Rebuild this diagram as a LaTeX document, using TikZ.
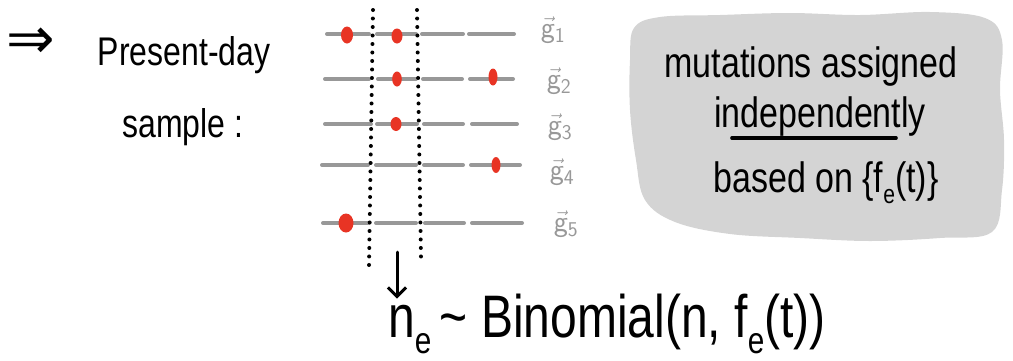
\documentclass[tikz,border=0pt]{standalone}
\usepackage{fontspec}
\setmainfont{Liberation Sans}
\newfontfamily\symfont{DejaVu Sans}
\usetikzlibrary{arrows.meta,calc}
\definecolor{rowgray}{RGB}{152,152,152}
\definecolor{cloudgray}{RGB}{212,212,212}
\definecolor{dotred}{RGB}{232,52,36}
\newcommand\lowsub[1]{\raisebox{-0.28em}{\scalebox{0.62}{#1}}}
\newcommand\tall[1]{\scalebox{1}[1.25]{#1}}
\begin{document}
\begin{tikzpicture}[x=1pt,y=-1pt,
  hand/.style={inner sep=0pt, font=\fontsize{34}{40}\selectfont},
  big/.style={inner sep=0pt, font=\fontsize{32}{38}\selectfont},
  huge/.style={inner sep=0pt, font=\fontsize{48}{54}\selectfont},
  glabel/.style={inner sep=0pt, text=rowgray, font=\fontsize{30}{34}\selectfont},
  rowline/.style={draw=rowgray, line width=4pt, line cap=round},
  dotline/.style={draw=black, line width=4pt, line cap=round, dash pattern=on 0pt off 8.5pt},
  mut/.style={fill=dotred, draw=none},
  pointer/.style={draw=black, line width=3pt, line cap=round, -{Straight Barb[length=9pt,width=18pt]}, shorten >=6pt}]
\useasboundingbox (0,0) rectangle (1013,360);

% cloud
\fill[cloudgray] plot[smooth cycle, tension=0.6] coordinates {
 (634,28) (660,17) (720,15) (790,13) (860,15) (930,12) (985,18) (1002,40)
 (1000,90) (1004,140) (1002,190) (992,232) (940,238) (870,241) (800,238)
 (730,234) (675,222) (645,200) (636,160) (630,110) (630,60)};

% left text
\node[inner sep=0pt, font=\symfont\fontsize{58}{60}\selectfont] (impl) at (31,43) {⇒};
\node[big, anchor=base] (present) at (184,65) {\tall{Present-day}};
\node[big, anchor=base] (sample) at (183,137) {\tall{sample :}};

% rows
\foreach \y/\a/\b/\c/\d/\e/\f/\g/\h in {
  34/327/369/377/416/422/463/469/514,
  79/325/369/378/416/423/462/470/513,
 124/325/371/377/417/424/463/472/517,
 165/322/368/376/416/424/463/471/520,
 223/323/369/376/416/425/464/472/522}{
  \draw[rowline] (\a,\y) -- (\b,\y);
  \draw[rowline] (\c,\y) -- (\d,\y);
  \draw[rowline] (\e,\y) -- (\f,\y);
  \draw[rowline] (\g,\y) -- (\h,\y);
}

% dotted lines
\draw[dotline] (373,10) -- (369,266);
\draw[dotline] (417,10) -- (421,258);

% mutations
\fill[mut] (347,35) ellipse [x radius=6, y radius=8.5];
\fill[mut] (397,36) ellipse [x radius=5.5, y radius=7.5];
\fill[mut] (397,79) ellipse [x radius=4.8, y radius=7.5];
\fill[mut] (493,77) ellipse [x radius=4.5, y radius=8.5];
\fill[mut] (396,124) ellipse [x radius=5.5, y radius=7];
\fill[mut] (496,165) ellipse [x radius=4.5, y radius=8];
\fill[mut] (346,223) ellipse [x radius=7.5, y radius=9.5];

% labels
\node[glabel] (g1) at (553,30) {$\vec{\mathsf{g}}_{\mathsf{1}}$};
\node[glabel] (g2) at (559,81) {$\vec{\mathsf{g}}_{\mathsf{2}}$};
\node[glabel] (g3) at (560,127) {$\vec{\mathsf{g}}_{\mathsf{3}}$};
\node[glabel] (g4) at (562,172) {$\vec{\mathsf{g}}_{\mathsf{4}}$};
\node[glabel] (g5) at (566,224) {$\vec{\mathsf{g}}_{\mathsf{5}}$};

% cloud text
\node[hand, anchor=base] (mutl) at (811,77) {\tall{mutations assigned}};
\node[hand, anchor=base] (ind) at (820,127) {\tall{independently}};
\node[hand, anchor=base] (based) at (826,192) {\tall{based on \{f\lowsub{e}(t)\}}};
\draw[line width=3.5pt, line cap=round] ($(ind.base west)+(18,11)$) -- ($(ind.base east)+(-30,11)$);

% binomial
\node[huge, anchor=base west] (ne) at (388,337) {\tall{n\lowsub{e}}};
\node[huge, anchor=base west] (binom) at ($(ne.base east)+(8,0)$) {\tall{\char"007E\ Binomial(n, f\lowsub{e}(t))}};
\coordinate (atop) at (397,252);
\draw[pointer] (atop) -- (atop |- ne.north);
\end{tikzpicture}
\end{document}
